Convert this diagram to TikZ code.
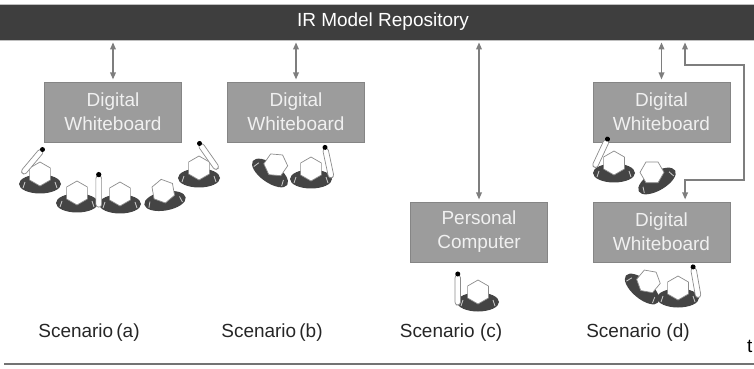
\documentclass[tikz,border=0pt]{standalone}
\usepackage{fontspec}
\setmainfont{Liberation Sans}
\usepackage{tikz}
\usetikzlibrary{arrows.meta}
\usepackage{xcolor}
\definecolor{barGrey}{HTML}{3E3E3E}
\definecolor{cardGrey}{HTML}{9C9C9C}
\definecolor{cardEdge}{HTML}{858585}
\definecolor{linkGrey}{HTML}{7E7E7E}
\definecolor{shoulderGrey}{HTML}{444444}
\newcommand{\figfont}{\fontsize{13.5pt}{17pt}\selectfont}

\begin{document}
\begin{tikzpicture}[x=0.025cm, y=0.025cm,
        repoBar/.style={fill=barGrey, draw=black!25, text=white, font=\figfont, minimum width=19.5cm, minimum height=0.9cm, inner sep=0pt},
        boardCard/.style={draw=cardEdge, fill=cardGrey, line width=0.6pt, text=white!94!black, font=\figfont, align=center, minimum width=3.42cm, minimum height=1.5cm, inner sep=0pt},
        linkArrow/.style={{Triangle[length=5pt,width=4pt]}-{Triangle[length=5pt,width=4pt]}, line width=1pt, draw=linkGrey, shorten <=1.5pt, shorten >=1.5pt},
        scenarioLabel/.style={font=\figfont, text=black!85},
        timeAxis/.style={-{Triangle[length=6pt,width=5pt]}, line width=1.1pt, draw=black!55},
        shoulder/.style={fill=shoulderGrey},
        stripe/.style={draw=white!78!black, line width=0.6pt},
        headLine/.style={draw=black!45, fill=white, line width=0.5pt},
        seated/.pic={
            \fill[shoulder] (0,0) ellipse (21 and 9.5);
            \draw[stripe] (-17,-4) -- (-15,2);
            \draw[stripe] (15,2) -- (17,-4);
            \draw[headLine, shift={(0,10)}] (90:12) -- (150:12) -- (210:12) -- (270:12) -- (330:12) -- (30:12) -- cycle;
        },
        seatedPen/.pic={
            \pic {seated};
            \draw[headLine, rounded corners=2pt] (-23,-3) rectangle (-17.5,27);
            \fill[black] (-20.25,28) circle (2.5);
        }
    ]
        \useasboundingbox (0,0) rectangle (754,368);

        % Repository bar
        \node[repoBar] (bar) at (383,346) {IR Model Repository};

        % Boards and computer
        \node[boardCard] (boxA) at (113,256) {Digital\\Whiteboard};
        \node[boardCard] (boxB) at (296,256) {Digital\\Whiteboard};
        \node[boardCard] (boxC) at (479,136) {Personal\\Computer};
        \node[boardCard] (boxD1) at (661.5,256) {Digital\\Whiteboard};
        \node[boardCard] (boxD2) at (661.5,136) {Digital\\Whiteboard};

        % Links to the repository
        \draw[linkArrow] (boxA.north) -- (boxA.north |- bar.south);
        \draw[linkArrow] (boxB.north) -- (boxB.north |- bar.south);
        \draw[linkArrow] (boxC.north) -- (boxC.north |- bar.south);
        \draw[linkArrow] (boxD1.north) -- (boxD1.north |- bar.south);
        \coordinate (bendLow) at (744,188);
        \coordinate (bendHigh) at (685,303);
        \draw[linkArrow] ([xshift=0.59cm]boxD2.north) |- (bendLow) |- (bendHigh) -- (bendHigh |- bar.south);

        % People, scenario (a)
        \pic[rotate=-40] at (40,184) {seatedPen};
        \pic at (77,165) {seated};
        \pic[scale=1.05] at (120,164) {seatedPen};
        \pic[rotate=10] at (165,167) {seated};
        \pic[rotate=35, xscale=-1] at (199,190) {seatedPen};

        % People, scenario (b)
        \pic[rotate=-35] at (270,195) {seated};
        \pic[rotate=12, xscale=-1] at (311,189) {seatedPen};

        % People, scenario (c)
        \pic at (478,66) {seatedPen};

        % People, scenario (d)
        \pic[rotate=-25] at (614,195) {seatedPen};
        \pic[rotate=30] at (657,187) {seated};
        \pic[rotate=-40] at (642,79) {seated};
        \pic[rotate=10, xscale=-1] at (678,70) {seatedPen};

        % Scenario labels
        \node[scenarioLabel] (labA) at (89,35) {Scenario\,(a)};
        \node[scenarioLabel] (labB) at (272,35) {Scenario\,(b)};
        \node[scenarioLabel] (labC) at (451,35) {Scenario (c)};
        \node[scenarioLabel] (labD) at (638,35) {Scenario (d)};

        % Time axis
        \coordinate (tStart) at (4,4);
        \coordinate (tEnd) at (764,4);
        \draw[timeAxis] (tStart) -- (tEnd);
        \node[font=\figfont, anchor=east, inner sep=1pt] (tLabel) at (754,22) {t};
    \end{tikzpicture}
\end{document}
